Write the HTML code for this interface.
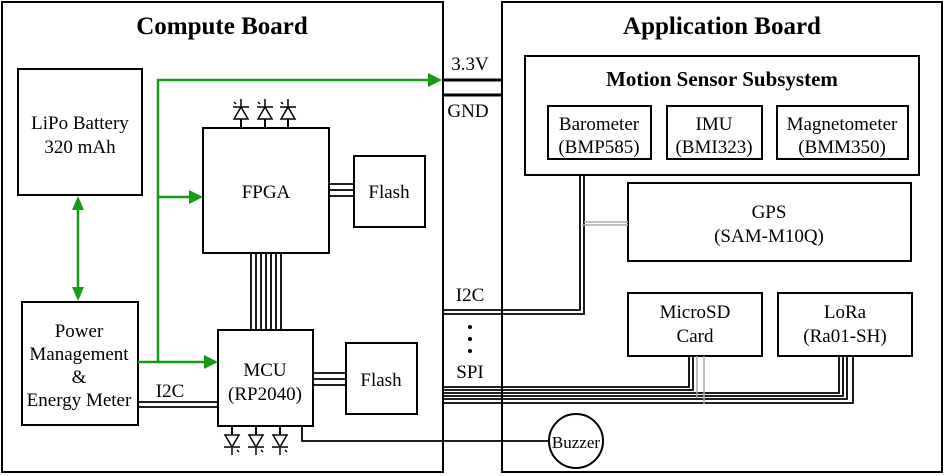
<!DOCTYPE html>
<html><head><style>body{margin:0;background:#fff}svg{display:block}svg text{font-family:"Liberation Serif","DejaVu Serif",serif}</style></head><body>
<svg width="947" height="476" viewBox="0 0 947 476" xmlns="http://www.w3.org/2000/svg" fill="none" stroke="#000" stroke-width="2">
<defs>
<g id="led"><line x1="0" y1="0" x2="0" y2="-9"/><path d="M-7,-9 L7,-9 L0,-21 Z" stroke-width="1.5"/><line x1="-8" y1="-21" x2="8" y2="-21" stroke-width="1.5"/><line x1="0" y1="-21" x2="0" y2="-29" stroke-width="1.5"/><line x1="-7" y1="-26" x2="-5" y2="-24" stroke-width="1.5"/></g>
</defs>
<rect x="2" y="2" width="441" height="470"/>
<rect x="502" y="2" width="440" height="470"/>
<g fill="#000" stroke="none" font-weight="bold" font-size="25" text-anchor="middle">
<text x="222" y="34">Compute Board</text><text x="722" y="34">Application Board</text>
</g>
<rect x="18" y="69" width="124" height="126"/>
<rect x="22" y="302" width="116" height="123"/>
<rect x="203" y="128" width="126" height="125"/>
<rect x="354" y="156" width="71" height="71"/>
<rect x="218" y="330" width="95" height="96"/>
<rect x="346" y="343" width="71" height="71"/>
<rect x="525" y="56" width="394" height="119"/>
<rect x="548" y="106" width="103" height="53"/>
<rect x="667" y="106" width="95" height="53"/>
<rect x="777" y="106" width="131" height="53"/>
<rect x="628" y="183" width="283" height="78"/>
<rect x="628" y="293" width="134" height="63"/>
<rect x="778" y="293" width="134" height="63"/>
<circle cx="576" cy="441" r="27"/>
<g stroke="#169b16" stroke-width="2.5">
<line x1="78" y1="205" x2="78" y2="292"/>
<path d="M78,196 L72,210 L84,210 Z" fill="#169b16" stroke="none"/>
<path d="M78,301 L72,287 L84,287 Z" fill="#169b16" stroke="none"/>
<polyline points="138,362 158,362 158,80 430,80"/>
<path d="M442,80 L428,73 L428,87 Z" fill="#169b16" stroke="none"/>
<line x1="158" y1="197" x2="192" y2="197"/>
<path d="M203,197 L189,190 L189,204 Z" fill="#169b16" stroke="none"/>
<line x1="158" y1="362" x2="207" y2="362"/>
<path d="M218,362 L204,355 L204,369 Z" fill="#169b16" stroke="none"/>
</g>
<line x1="443" y1="80" x2="502" y2="80" stroke-width="3"/>
<line x1="443" y1="95" x2="502" y2="95" stroke-width="3"/>
<g stroke-width="1.8">
<line x1="329" y1="184" x2="354" y2="184"/><line x1="329" y1="190" x2="354" y2="190"/><line x1="329" y1="196" x2="354" y2="196"/>
<line x1="313" y1="373" x2="346" y2="373"/><line x1="313" y1="379" x2="346" y2="379"/><line x1="313" y1="385" x2="346" y2="385"/>
<line x1="251" y1="253" x2="251" y2="330"/><line x1="256" y1="253" x2="256" y2="330"/><line x1="261" y1="253" x2="261" y2="330"/><line x1="266" y1="253" x2="266" y2="330"/><line x1="271" y1="253" x2="271" y2="330"/><line x1="276" y1="253" x2="276" y2="330"/><line x1="281" y1="253" x2="281" y2="330"/>
<line x1="138" y1="402" x2="218" y2="402"/><line x1="138" y1="407" x2="218" y2="407"/>
<polyline points="302,426 302,441 549,441"/>
<polyline points="443,310 580,310 580,175"/>
<polyline points="443,314 584,314 584,175"/>
<polyline points="443,387 689,387 689,356"/>
<polyline points="443,390 693,390 693,356"/>
<polyline points="443,393 839,393 839,356"/>
<polyline points="443,396 843,396 843,356"/>
<polyline points="443,399 847,399 847,356"/>
<polyline points="443,403 853,403 853,356"/>
</g>
<g stroke="#aaa" stroke-width="1.5">
<line x1="697" y1="356" x2="697" y2="398"/><line x1="704" y1="356" x2="704" y2="404"/>
<line x1="584" y1="222" x2="628" y2="222"/><line x1="582" y1="225" x2="628" y2="225"/>
</g>
<use href="#led" transform="translate(241,128)"/><use href="#led" transform="translate(265,128)"/><use href="#led" transform="translate(288,128)"/>
<use href="#led" transform="translate(232,426) scale(-1,-1)"/><use href="#led" transform="translate(256,426) scale(-1,-1)"/><use href="#led" transform="translate(280,426) scale(-1,-1)"/>
<g fill="#000" stroke="none">
<circle cx="470" cy="327" r="2"/><circle cx="470" cy="339" r="2"/><circle cx="470" cy="351" r="2"/>
</g>
<g fill="#000" stroke="none" font-size="19" text-anchor="middle">
<text x="80" y="129">LiPo Battery</text><text x="80" y="153">320 mAh</text>
<text x="79" y="337">Power</text><text x="79" y="360">Management</text><text x="79" y="383">&amp;</text><text x="79" y="406">Energy Meter</text>
<text x="266" y="198">FPGA</text><text x="389" y="198">Flash</text>
<text x="265" y="376">MCU</text><text x="265" y="400">(RP2040)</text><text x="381" y="386">Flash</text>
<text x="170" y="397">I2C</text>
<text x="470" y="70">3.3V</text><text x="468" y="117">GND</text>
<text x="470" y="301">I2C</text><text x="470" y="378">SPI</text>
<text x="576" y="448" font-size="17">Buzzer</text>
<text x="722" y="86" font-weight="bold" font-size="21">Motion Sensor Subsystem</text>
<text x="599" y="130">Barometer</text><text x="599" y="153">(BMP585)</text>
<text x="714" y="130">IMU</text><text x="714" y="153">(BMI323)</text>
<text x="842" y="130">Magnetometer</text><text x="842" y="153">(BMM350)</text>
<text x="769" y="218">GPS</text><text x="769" y="242">(SAM-M10Q)</text>
<text x="695" y="318">MicroSD</text><text x="695" y="342">Card</text>
<text x="845" y="318">LoRa</text><text x="845" y="342">(Ra01-SH)</text>
</g>
</svg>
</body></html>
